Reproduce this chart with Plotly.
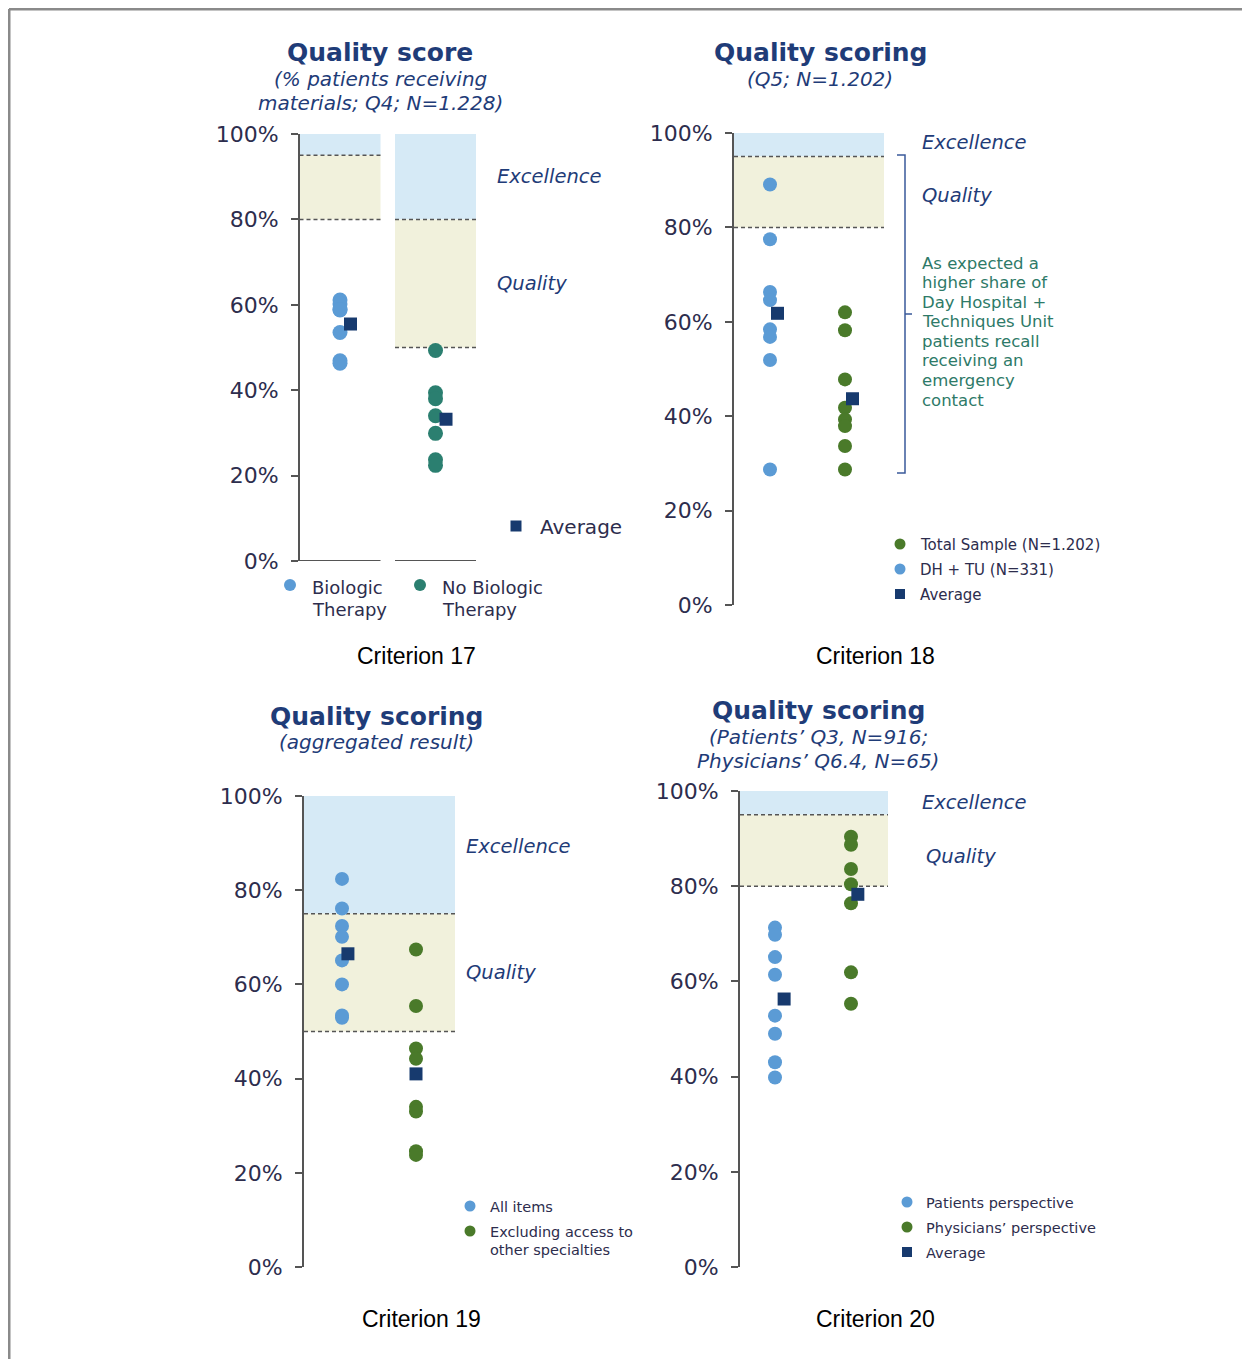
import plotly.graph_objects as go

# ---------------- data ----------------
c17_categories = ["Biologic Therapy", "No Biologic Therapy"]
c17_biologic = [61.1, 60.2, 58.9, 58.8, 53.5, 46.9, 46.3]
c17_no_biologic = [49.3, 39.4, 38.0, 34.0, 29.9, 23.7, 22.4]
c17_averages = [55.5, 33.2]
c17_thresholds = [[95, 80], [80, 50]]   # [excellence, quality] per column

c18_categories = ["DH + TU (N=331)", "Total Sample (N=1.202)"]
c18_dhtu = [89.1, 77.5, 66.3, 64.6, 58.4, 56.8, 51.9, 28.7]
c18_total = [62.0, 58.2, 47.8, 41.8, 39.3, 37.9, 33.7, 28.7]
c18_averages = [61.8, 43.7]
c18_thresholds = [95, 80]

c19_categories = ["All items", "Excluding access to other specialties"]
c19_all = [82.4, 76.1, 72.4, 70.1, 65.1, 60.0, 53.4, 52.9]
c19_excluding = [67.4, 55.4, 46.4, 44.2, 34.0, 33.0, 24.6, 23.8]
c19_averages = [66.5, 41.0]
c19_thresholds = [75, 50]

c20_categories = ["Patients perspective", "Physicians’ perspective"]
c20_patients = [71.3, 69.8, 65.1, 61.4, 52.8, 49.0, 43.0, 39.8]
c20_physicians = [90.4, 88.7, 83.6, 80.4, 76.4, 61.9, 55.3]
c20_averages = [56.3, 78.3]
c20_thresholds = [95, 80]

y_ticks = [0, 20, 40, 60, 80, 100]
y_tick_labels = ["0%", "20%", "40%", "60%", "80%", "100%"]

# ---------------- styles ----------------
PAGE_OFF = 8            # browser body margin
W, H = 1234, 1351       # figure fits inside the 1250x1367 window
LBLUE = "#5b9bd5"
TEAL = "#2b7f70"
NOTE = "#2e7a68"
GREEN = "#4a7a2a"
NAVY = "#173a6e"
TNAVY = "#1f3c78"
BAND_BLUE = "#d6eaf6"
BAND_YEL = "#f1f1dc"
AXCOL = "#555555"
TICKTXT = "#2d2d4d"
FONT = "DejaVu Sans"


def px(x):
    return (x - PAGE_OFF) / W


def py(y):
    return 1 - (y - PAGE_OFF) / H


fig = go.Figure()
shapes = []
annotations = []

# panel geometry in window pixels
panels = {
    1: dict(axis=300, c0=340, unit=95.5, right=640, top=134, bottom=561),
    2: dict(axis=734, c0=770, unit=75, right=1120, top=133, bottom=605),
    3: dict(axis=304, c0=342, unit=74, right=650, top=796, bottom=1267),
    4: dict(axis=740, c0=775, unit=76, right=1120, top=791, bottom=1267),
}


def to_u(p, xpx):
    return (xpx - p["c0"]) / p["unit"]


layout_axes = {}
for i, p in panels.items():
    xa = "xaxis" if i == 1 else f"xaxis{i}"
    ya = "yaxis" if i == 1 else f"yaxis{i}"
    xr = "x" if i == 1 else f"x{i}"
    yr = "y" if i == 1 else f"y{i}"
    p["xref"], p["yref"] = xr, yr
    layout_axes[xa] = dict(
        domain=[px(p["axis"]), px(p["right"])],
        range=[to_u(p, p["axis"]), to_u(p, p["right"])],
        visible=False, anchor=yr, fixedrange=True, automargin=False,
    )
    layout_axes[ya] = dict(
        domain=[py(p["bottom"]), py(p["top"])],
        range=[0, 100], anchor=xr,
        tickvals=y_ticks, ticktext=y_tick_labels,
        showgrid=False, zeroline=False, automargin=False,
        showline=True, linecolor=AXCOL, linewidth=2,
        ticks="outside", ticklen=7, tickwidth=2, tickcolor=AXCOL,
        ticklabelstandoff=8,
        tickfont=dict(family=FONT, size=22, color=TICKTXT),
        fixedrange=True,
    )


def band(p, x0, x1, exc, qual):
    shapes.append(dict(type="rect", xref=p["xref"], yref=p["yref"], x0=x0, x1=x1,
                       y0=exc, y1=100, fillcolor=BAND_BLUE, line_width=0, layer="below"))
    shapes.append(dict(type="rect", xref=p["xref"], yref=p["yref"], x0=x0, x1=x1,
                       y0=qual, y1=exc, fillcolor=BAND_YEL, line_width=0, layer="below"))
    for v in (exc, qual):
        shapes.append(dict(type="line", xref=p["xref"], yref=p["yref"], x0=x0, x1=x1,
                           y0=v, y1=v, line=dict(color=AXCOL, width=1.5, dash="4px,3px"),
                           layer="below"))


def dots(p, cat, values, color, name, size=14):
    fig.add_trace(go.Scatter(
        x=[cat] * len(values), y=values, mode="markers", name=name,
        xaxis=p["xref"], yaxis=p["yref"], showlegend=False,
        marker=dict(symbol="circle", size=size, color=color, line_width=0),
        hovertemplate="%{y:.1f}%<extra>" + name + "</extra>",
    ))


def avg(p, cats, values, offsets, size=13):
    fig.add_trace(go.Scatter(
        x=[c + o for c, o in zip(cats, offsets)], y=values, mode="markers",
        xaxis=p["xref"], yaxis=p["yref"], showlegend=False, name="Average",
        marker=dict(symbol="square", size=size, color=NAVY, line_width=0),
        hovertemplate="Average %{y:.1f}%<extra></extra>",
    ))


def text(x, y, t, size, color=TNAVY, bold=False, italic=False, xanchor="center",
         family=FONT):
    s = t
    if bold:
        s = f"<b>{s}</b>"
    if italic:
        s = f"<i>{s}</i>"
    annotations.append(dict(xref="paper", yref="paper", x=px(x), y=py(y), text=s,
                            showarrow=False, xanchor=xanchor, yanchor="middle",
                            align="left" if xanchor == "left" else "center",
                            font=dict(family=family, size=size, color=color)))


def lines(x, y0, step, rows, size, **kw):
    for k, r in enumerate(rows):
        text(x, y0 + k * step, r, size, **kw)


def leg_dot(x, y, color, size=12):
    r = size / 2
    shapes.append(dict(type="circle", xref="paper", yref="paper",
                       x0=px(x - r), x1=px(x + r), y0=py(y + r), y1=py(y - r),
                       fillcolor=color, line_width=0))


def leg_sq(x, y, size=11):
    r = size / 2
    shapes.append(dict(type="rect", xref="paper", yref="paper",
                       x0=px(x - r), x1=px(x + r), y0=py(y + r), y1=py(y - r),
                       fillcolor=NAVY, line_width=0))


TITLE = 25
SUB = 20
ZONE = 19.5
CRIT = 23
LEG = 14.5

# ---------------- Panel 1: Criterion 17 ----------------
p = panels[1]
hw = 40.5 / p["unit"]
for k, (exc, qual) in enumerate(c17_thresholds):
    band(p, k - hw, k + hw, exc, qual)
    shapes.append(dict(type="line", xref=p["xref"], yref=p["yref"], x0=k - hw, x1=k + hw,
                       y0=0, y1=0, line=dict(color=AXCOL, width=2)))
dots(p, 0, c17_biologic, LBLUE, c17_categories[0], 15)
dots(p, 1, c17_no_biologic, TEAL, c17_categories[1], 15)
avg(p, [0, 1], c17_averages, [0.11, 0.11], 13)

text(380, 52, "Quality score", TITLE, bold=True)
lines(380, 79, 24, ["(% patients receiving", "materials; Q4; N=1.228)"], SUB, italic=True)
text(495, 177, "Excellence", ZONE, italic=True, xanchor="left")
text(495, 284, "Quality", ZONE, italic=True, xanchor="left")
leg_sq(516, 526)
text(538, 527, "Average", 20, color=TICKTXT, xanchor="left")
leg_dot(290, 585, LBLUE)
lines(310, 587, 22, ["Biologic", "Therapy"], 18, color=TICKTXT, xanchor="left")
leg_dot(420, 585, TEAL)
lines(440, 587, 22, ["No Biologic", "Therapy"], 18, color=TICKTXT, xanchor="left")
text(416, 656, "Criterion 17", CRIT, color="#000000", family="Liberation Sans")

# ---------------- Panel 2: Criterion 18 ----------------
p = panels[2]
band(p, to_u(p, 734), to_u(p, 884), *c18_thresholds)
dots(p, 0, c18_dhtu, LBLUE, c18_categories[0])
dots(p, 1, c18_total, GREEN, c18_categories[1])
avg(p, [0, 1], c18_averages, [0.1, 0.1])

text(820, 52, "Quality scoring", TITLE, bold=True)
text(820, 79, "(Q5; N=1.202)", SUB, italic=True)
text(920, 143, "Excellence", ZONE, italic=True, xanchor="left")
text(920, 196, "Quality", ZONE, italic=True, xanchor="left")
# bracket
bx, btop, bbot, bmid = 905, 155, 473, 314
shapes.append(dict(type="path", xref="paper", yref="paper",
                   path=(f"M {px(bx-8)},{py(btop)} L {px(bx)},{py(btop)} "
                         f"L {px(bx)},{py(bbot)} L {px(bx-8)},{py(bbot)} "
                         f"M {px(bx)},{py(bmid)} L {px(bx+7)},{py(bmid)}"),
                   line=dict(color="#3a5a9a", width=1.5)))
lines(920, 263, 19.6, ["As expected a", "higher share of", "Day Hospital +",
                       "Techniques Unit", "patients recall", "receiving an",
                       "emergency", "contact"], 16.5, color=NOTE, xanchor="left")
leg_dot(900, 544, GREEN, 11)
text(918, 545, "Total Sample (N=1.202)", 15, color=TICKTXT, xanchor="left")
leg_dot(900, 569, LBLUE, 11)
text(918, 570, "DH + TU (N=331)", 15, color=TICKTXT, xanchor="left")
leg_sq(900, 594, 10)
text(918, 595, "Average", 15, color=TICKTXT, xanchor="left")
text(875, 656, "Criterion 18", CRIT, color="#000000", family="Liberation Sans")

# ---------------- Panel 3: Criterion 19 ----------------
p = panels[3]
band(p, to_u(p, 304), to_u(p, 455), *c19_thresholds)
dots(p, 0, c19_all, LBLUE, c19_categories[0])
dots(p, 1, c19_excluding, GREEN, c19_categories[1])
avg(p, [0, 1], c19_averages, [0.08, 0.0])

text(376, 716, "Quality scoring", TITLE, bold=True)
text(376, 742, "(aggregated result)", SUB, italic=True)
text(464, 846, "Excellence", ZONE, italic=True, xanchor="left")
text(464, 972, "Quality", ZONE, italic=True, xanchor="left")
leg_dot(470, 1206, LBLUE, 11)
text(488, 1207, "All items", LEG, color=TICKTXT, xanchor="left")
leg_dot(470, 1231, GREEN, 11)
lines(488, 1232, 17.5, ["Excluding access to", "other specialties"], LEG,
      color=TICKTXT, xanchor="left")
text(421, 1319, "Criterion 19", CRIT, color="#000000", family="Liberation Sans")

# ---------------- Panel 4: Criterion 20 ----------------
p = panels[4]
band(p, to_u(p, 740), to_u(p, 888), *c20_thresholds)
dots(p, 0, c20_patients, LBLUE, c20_categories[0])
dots(p, 1, c20_physicians, GREEN, c20_categories[1])
avg(p, [0, 1], c20_averages, [0.12, 0.09])

text(818, 710, "Quality scoring", TITLE, bold=True)
lines(818, 737, 24, ["(Patients’ Q3, N=916;", "Physicians’ Q6.4, N=65)"], SUB, italic=True)
text(920, 802, "Excellence", ZONE, italic=True, xanchor="left")
text(924, 856, "Quality", ZONE, italic=True, xanchor="left")
leg_dot(907, 1202, LBLUE, 11)
text(924, 1203, "Patients perspective", LEG, color=TICKTXT, xanchor="left")
leg_dot(907, 1227, GREEN, 11)
text(924, 1228, "Physicians’ perspective", LEG, color=TICKTXT, xanchor="left")
leg_sq(907, 1252, 10)
text(924, 1253, "Average", LEG, color=TICKTXT, xanchor="left")
text(875, 1319, "Criterion 20", CRIT, color="#000000", family="Liberation Sans")

# ---------------- page border ----------------
shapes.append(dict(type="line", xref="paper", yref="paper", x0=px(9), x1=1,
                   y0=py(9), y1=py(9), line=dict(color="#8a8a8a", width=3)))
shapes.append(dict(type="line", xref="paper", yref="paper", x0=px(9), x1=px(9),
                   y0=py(9), y1=0, line=dict(color="#8a8a8a", width=3)))

fig.update_layout(
    width=W, height=H,
    margin=dict(l=0, r=0, t=0, b=0, autoexpand=False),
    paper_bgcolor="white", plot_bgcolor="rgba(0,0,0,0)",
    showlegend=False,
    shapes=shapes, annotations=annotations,
    font=dict(family=FONT),
    **layout_axes,
)

fig.write_html("out.html")
